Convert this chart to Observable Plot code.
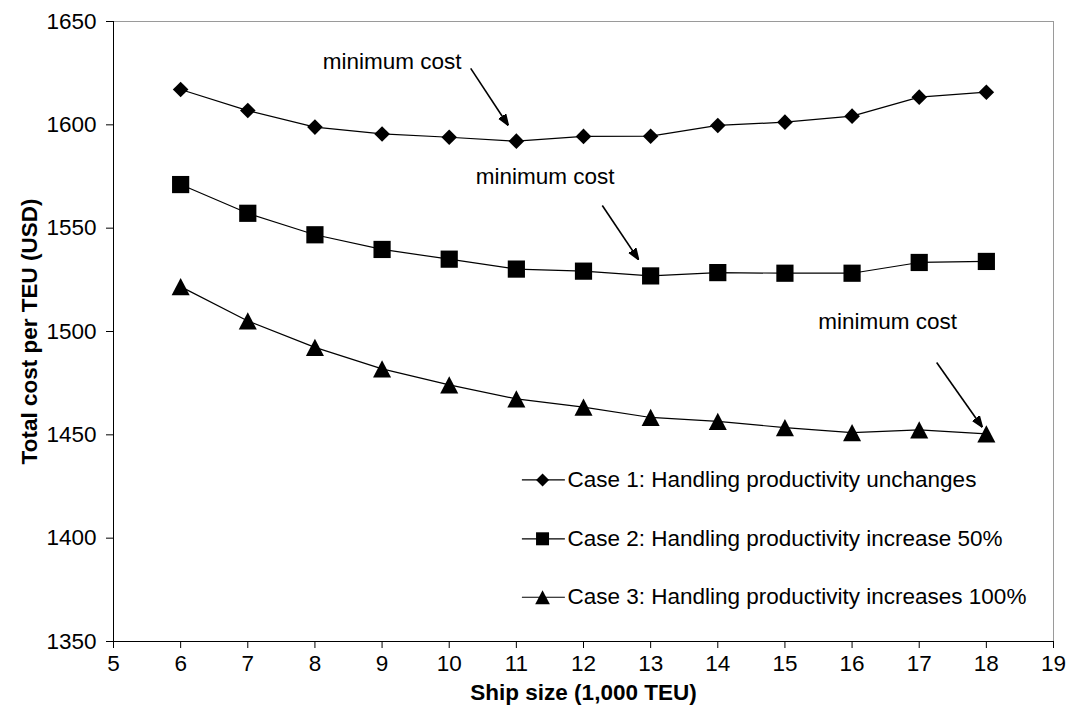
<!DOCTYPE html>
<html>
<head>
<meta charset="utf-8">
<script src="https://cdn.jsdelivr.net/npm/d3@7"></script>
<script src="https://cdn.jsdelivr.net/npm/@observablehq/plot@0.6"></script>
<style>
  html, body { margin: 0; padding: 0; background: #fff; }
  #chart svg g[aria-label="x-axis label"] text,
  #chart svg g[aria-label="y-axis label"] text { font-weight: bold; }
</style>
</head>
<body>
<div id="chart"></div>
<script>
// Ship size in thousand TEU
const shipSize = [6, 7, 8, 9, 10, 11, 12, 13, 14, 15, 16, 17, 18];

// Total cost per TEU (USD) for each handling-productivity case
const case1 = [1617.1, 1606.9, 1598.9, 1595.6, 1594.0, 1592.1, 1594.4, 1594.5, 1599.7, 1601.3, 1604.2, 1613.4, 1615.8];
const case2 = [1571.1, 1557.2, 1546.8, 1539.7, 1535.0, 1530.2, 1529.2, 1526.9, 1528.5, 1528.2, 1528.2, 1533.4, 1533.9];
const case3 = [1521.7, 1505.1, 1492.3, 1481.9, 1474.2, 1467.4, 1463.4, 1458.4, 1456.5, 1453.5, 1451.1, 1452.4, 1450.5];

const seriesNames = [
  "Case 1: Handling productivity unchanges",
  "Case 2: Handling productivity increase 50%",
  "Case 3: Handling productivity increases 100%"
];

const xTicks = [5, 6, 7, 8, 9, 10, 11, 12, 13, 14, 15, 16, 17, 18, 19];
const yTicks = [1350, 1400, 1450, 1500, 1550, 1600, 1650];

// "minimum cost" callouts: label position and arrow from/to, in data units
const noteText = ["minimum cost", "minimum cost", "minimum cost"];
const noteX = [9.15, 11.43, 16.53];
const noteY = [1630.6, 1574.7, 1504.5];
const arrowX1 = [10.32, 12.28, 17.26];
const arrowY1 = [1627.3, 1561.0, 1485.0];
const arrowX2 = [10.88, 12.82, 17.94];
const arrowY2 = [1599.7, 1534.8, 1453.7];

// Legend placement inside the plot, in data units
const legendLineX1 = 11.09, legendMarkX = 11.39, legendLineX2 = 11.73, legendTextX = 11.76;
const legendY = [1428.2, 1399.7, 1371.4];

// Marker shapes (size = r²π as passed by Plot.dot)
const diamond = {draw(ctx, size) {
  const h = Math.sqrt(size / Math.PI);
  ctx.moveTo(0, -h); ctx.lineTo(h, 0); ctx.lineTo(0, h); ctx.lineTo(-h, 0); ctx.closePath();
}};
const square = {draw(ctx, size) {
  const h = Math.sqrt(size / Math.PI);
  ctx.moveTo(-h, -h); ctx.lineTo(h, -h); ctx.lineTo(h, h); ctx.lineTo(-h, h); ctx.closePath();
}};
const triangle = {draw(ctx, size) {
  const h = Math.sqrt(size / Math.PI);
  ctx.moveTo(0, -h); ctx.lineTo(1.05 * h, h); ctx.lineTo(-1.05 * h, h); ctx.closePath();
}};
const symbols = [diamond, square, triangle];
const markerR = [7.8, 8.6, 8.6];
const legendR = [6.5, 6.5, 7];

const series = [case1, case2, case3].map((vals, i) =>
  shipSize.map((s, j) => ({series: seriesNames[i], size: s, cost: vals[j]}))
);

const notes = noteText.map((t, i) => ({
  text: t, x: noteX[i], y: noteY[i],
  x1: arrowX1[i], y1: arrowY1[i], x2: arrowX2[i], y2: arrowY2[i]
}));

const legendRows = seriesNames.map((name, i) => ({
  name, y: legendY[i], x1: legendLineX1, x2: legendLineX2, mx: legendMarkX, tx: legendTextX
}));

// Solid arrowhead for the callout arrows
function solidArrow(color) {
  const ns = "http://www.w3.org/2000/svg";
  const m = document.createElementNS(ns, "marker");
  m.setAttribute("viewBox", "-11 -5 11 10");
  m.setAttribute("markerWidth", 11);
  m.setAttribute("markerHeight", 10);
  m.setAttribute("markerUnits", "userSpaceOnUse");
  m.setAttribute("refX", 0);
  m.setAttribute("refY", 0);
  m.setAttribute("orient", "auto");
  const p = document.createElementNS(ns, "path");
  p.setAttribute("d", "M0,0L-11,-4L-11,4Z");
  p.setAttribute("fill", color);
  m.appendChild(p);
  return m;
}

const font = "'Liberation Sans', Arial, Helvetica, sans-serif";
const fs = 22.5;

const chart = Plot.plot({
  width: 1068,
  height: 724,
  marginLeft: 113,
  marginRight: 15,
  marginTop: 21,
  marginBottom: 83,
  style: {fontFamily: font, fontSize: fs + "px", color: "#000", background: "#fff", overflow: "visible"},
  x: {domain: [5, 19]},
  y: {domain: [1350, 1650]},
  marks: [
    Plot.frame({stroke: "#9a9a9a", strokeWidth: 1}),
    Plot.axisY(yTicks, {
      tickSize: 7, tickPadding: 10, tickFormat: d => String(d),
      label: "Total cost per TEU (USD)", labelAnchor: "center", labelOffset: 92, labelArrow: "none"
    }),
    Plot.axisX(xTicks, {
      tickSize: 7, tickPadding: 7, tickFormat: d => String(d),
      label: "Ship size (1,000 TEU)", labelAnchor: "center", labelOffset: 58, labelArrow: "none"
    }),
    Plot.ruleX([5], {stroke: "#000"}),
    Plot.ruleY([1350], {stroke: "#000"}),
    ...series.map(data => Plot.line(data, {x: "size", y: "cost", stroke: "#000", strokeWidth: 1.2})),
    ...series.map((data, i) => Plot.dot(data, {x: "size", y: "cost", symbol: symbols[i], r: markerR[i], fill: "#000", stroke: "none"})),
    Plot.text(notes, {x: "x", y: "y", text: "text", fontSize: fs, textAnchor: "middle", fill: "#000"}),
    Plot.link(notes, {x1: "x1", y1: "y1", x2: "x2", y2: "y2", stroke: "#000", strokeWidth: 1.6, markerEnd: solidArrow}),
    Plot.ruleY(legendRows, {y: "y", x1: "x1", x2: "x2", stroke: "#000", strokeWidth: 1.2}),
    ...legendRows.map((row, i) => Plot.dot([row], {x: "mx", y: "y", symbol: symbols[i], r: legendR[i], fill: "#000", stroke: "none"})),
    Plot.text(legendRows, {x: "tx", y: "y", text: "name", fontSize: fs, textAnchor: "start", fill: "#000"})
  ]
});

document.getElementById("chart").appendChild(chart);
</script>
</body>
</html>
